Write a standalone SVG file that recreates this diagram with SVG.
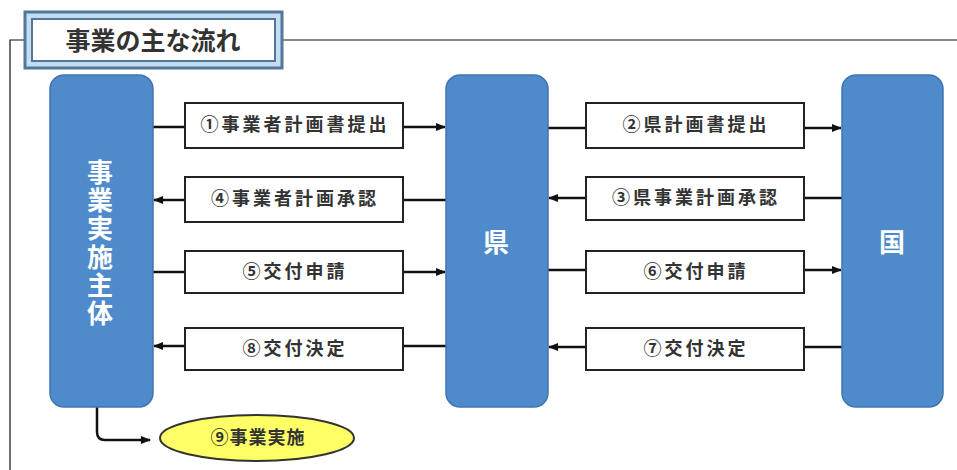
<svg xmlns="http://www.w3.org/2000/svg" width="957" height="470" viewBox="0 0 957 470">
<defs>
<marker id="ah" viewBox="0 0 10 10" refX="9" refY="5" markerWidth="10" markerHeight="10" markerUnits="userSpaceOnUse" orient="auto">
<path d="M0,1 L10,5 L0,9 Z" fill="#111"/>
</marker>
<style>
.node{fill:#4F8BCB;stroke:#3F75B2;stroke-width:1.5}
.ntext{font-family:"Liberation Sans","Noto Sans CJK JP",sans-serif;font-weight:bold;fill:#fff;text-anchor:middle;dominant-baseline:central}
.lbox{fill:#fff;stroke:#222;stroke-width:2}
.ltext{font-family:"Liberation Sans","Noto Sans CJK JP",sans-serif;font-size:18px;font-weight:bold;fill:#333;text-anchor:middle;dominant-baseline:central;letter-spacing:3px}
.conn{stroke:#111;stroke-width:2.5;fill:none}
.frame{stroke:#111;stroke-width:1.2;fill:none}
</style>
</defs>
<rect x="0" y="0" width="957" height="470" fill="#fff"/>
<g id="frame">
<path class="frame" d="M10,470 L10,40 L25,40"/>
<path class="frame" d="M282,40 L957,40"/>
</g>
<g id="title">
<rect x="25" y="12" width="257" height="56" fill="#C5DDF0" stroke="#52779A" stroke-width="3"/>
<rect x="32" y="19" width="243" height="42" fill="#fff" stroke="#52779A" stroke-width="2"/>
<text x="153" y="41" font-family="'Liberation Sans','Noto Sans CJK JP',sans-serif" font-size="25" font-weight="bold" fill="#333" text-anchor="middle" dominant-baseline="central">事業の主な流れ</text>
</g>
<g id="connectors">
<line class="conn" x1="153" y1="127" x2="445" y2="127" marker-end="url(#ah)"/>
<line class="conn" x1="446" y1="200" x2="154" y2="200" marker-end="url(#ah)"/>
<line class="conn" x1="153" y1="272" x2="445" y2="272" marker-end="url(#ah)"/>
<line class="conn" x1="446" y1="346" x2="154" y2="346" marker-end="url(#ah)"/>
<line class="conn" x1="548" y1="128" x2="841" y2="128" marker-end="url(#ah)"/>
<line class="conn" x1="842" y1="198" x2="549" y2="198" marker-end="url(#ah)"/>
<line class="conn" x1="548" y1="270" x2="841" y2="270" marker-end="url(#ah)"/>
<line class="conn" x1="842" y1="347" x2="549" y2="347" marker-end="url(#ah)"/>
<path class="conn" d="M97,407 L97,432 Q97,440 105,440 L150,440" marker-end="url(#ah)"/>
</g>
<g id="node-jigyo">
<rect class="node" x="50" y="75" width="103" height="332" rx="14"/>
<g class="ntext" font-size="26">
<text x="100" y="173">事</text>
<text x="100" y="201">業</text>
<text x="100" y="229">実</text>
<text x="100" y="258">施</text>
<text x="100" y="286">主</text>
<text x="100" y="314">体</text>
</g>
</g>
<g id="node-ken">
<rect class="node" x="446" y="75" width="102" height="332" rx="14"/>
<text class="ntext" x="496" y="243" font-size="26">県</text>
</g>
<g id="node-kuni">
<rect class="node" x="842" y="75" width="101" height="332" rx="14"/>
<text class="ntext" x="892" y="243" font-size="26">国</text>
</g>
<g id="label1">
<rect class="lbox" x="185" y="103" width="218" height="45"/>
<text class="ltext" x="295" y="125">①事業者計画書提出</text>
</g>
<g id="label4">
<rect class="lbox" x="185" y="177" width="218" height="45"/>
<text class="ltext" x="295" y="199">④事業者計画承認</text>
</g>
<g id="label5">
<rect class="lbox" x="185" y="251" width="218" height="42"/>
<text class="ltext" x="295" y="272">⑤交付申請</text>
</g>
<g id="label8">
<rect class="lbox" x="185" y="328" width="218" height="42"/>
<text class="ltext" x="295" y="349">⑧交付決定</text>
</g>
<g id="label2">
<rect class="lbox" x="586" y="103" width="218" height="45"/>
<text class="ltext" x="696" y="125">②県計画書提出</text>
</g>
<g id="label3">
<rect class="lbox" x="586" y="177" width="218" height="43"/>
<text class="ltext" x="696" y="198">③県事業計画承認</text>
</g>
<g id="label6">
<rect class="lbox" x="586" y="251" width="218" height="42"/>
<text class="ltext" x="696" y="272">⑥交付申請</text>
</g>
<g id="label7">
<rect class="lbox" x="586" y="328" width="218" height="42"/>
<text class="ltext" x="696" y="349">⑦交付決定</text>
</g>
<g id="node-jisshi">
<ellipse cx="257" cy="438" rx="97" ry="23" fill="#FFFF66" stroke="#333" stroke-width="2"/>
<text class="ltext" x="258" y="438" font-size="19" style="letter-spacing:1px">⑨事業実施</text>
</g>
</svg>
